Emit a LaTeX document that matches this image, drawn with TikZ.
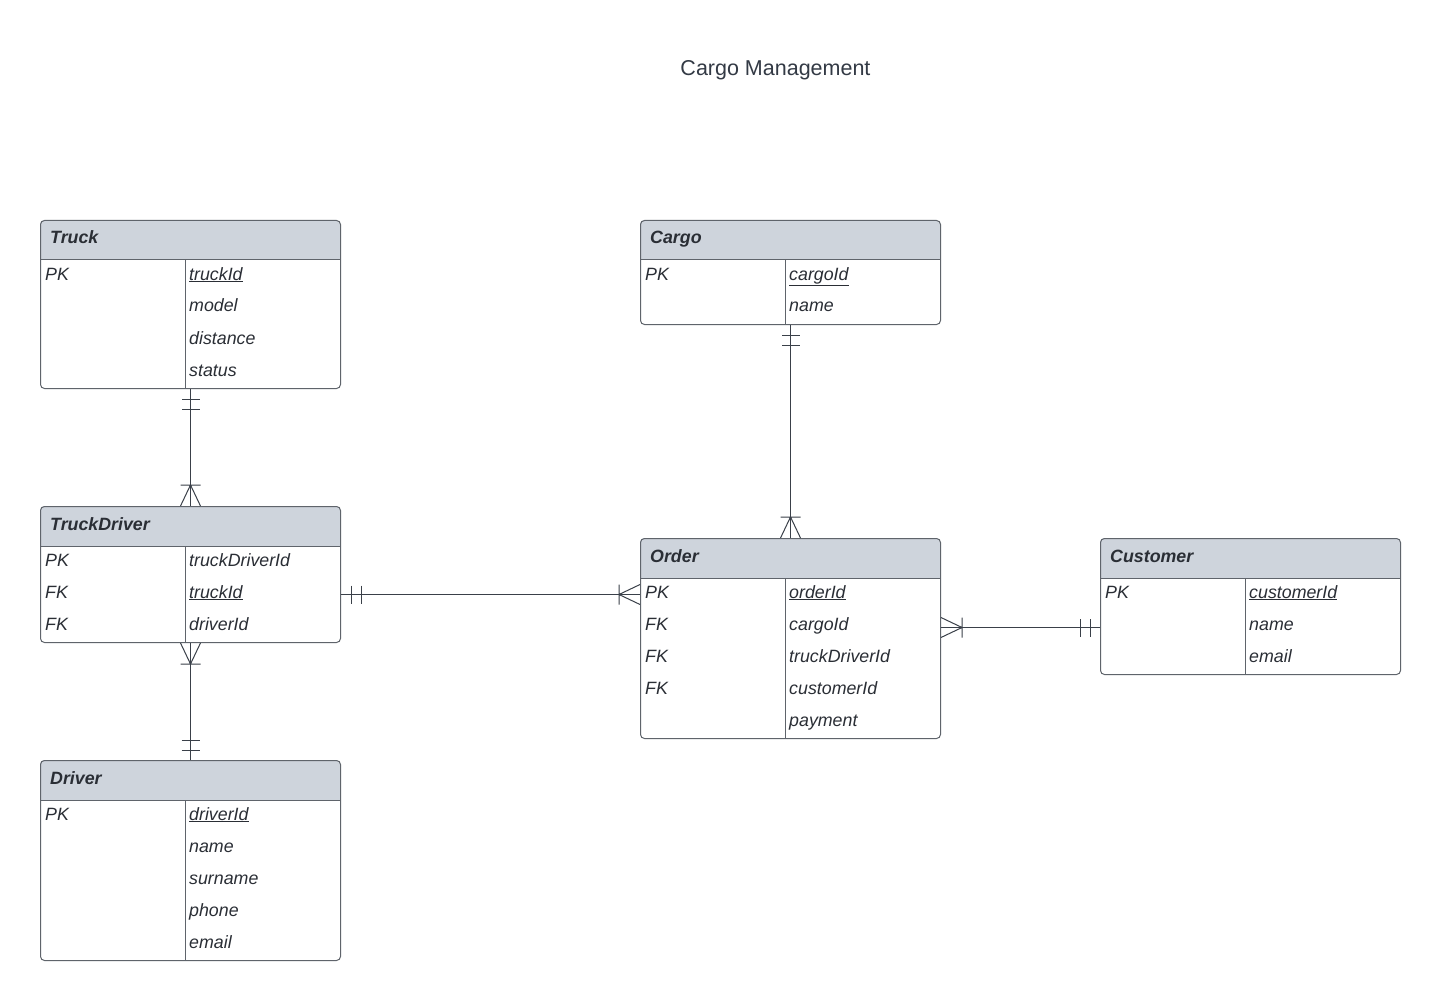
\documentclass[tikz,border=0pt]{standalone}
\usepackage{fontspec}
\setmainfont{Liberation Sans}
\definecolor{hdrfill}{HTML}{CED4DC}
\definecolor{bordc}{HTML}{5F646B}
\definecolor{txtc}{HTML}{2A2E35}
\definecolor{linec}{HTML}{3A4049}
\definecolor{titlec}{HTML}{333A45}
\tikzset{
  conn/.style={draw=linec, line width=1pt},
  tblframe/.style={draw=bordc, line width=1pt, rounded corners=4pt, inner sep=0pt, minimum width=300pt},
  border/.style={draw=bordc, line width=1pt},
  hdr/.style={inner sep=0pt, text=txtc, font=\fontsize{17.8}{20}\selectfont\bfseries\itshape},
  cell/.style={inner sep=0pt, text=txtc, font=\fontsize{17.8}{20}\selectfont\itshape},
  pics/barbar/.style={code={\draw[conn] (10,-9) -- (10,9) (20,-9) -- (20,9);}},
  pics/crowfoot/.style={code={\draw[conn] (0,-10) -- (21,0) -- (0,10) (21,-10) -- (21,10);}},
}
\newcommand\ertable[6]{%
  \pgfmathsetmacro\tblh{40+32*#4}
  \begin{scope}
    \clip[rounded corners=4pt] (#2,#3) rectangle ++(300,\tblh);
    \fill[hdrfill] (#2,#3) rectangle ++(300,40);
  \end{scope}
  \node[tblframe, minimum height=\tblh pt, anchor=north west] (#1) at (#2,#3) {};
  \draw[border] (#2,#3+40) -- ++(300,0);
  \draw[border] (#2+145,#3+40) -- (#2+145,#3+\tblh);
  \node[hdr, anchor=base west] (#1-h) at (#2+10,#3+24) {#5};
  \foreach \k/\a [count=\i] in {#6} {
    \node[cell, anchor=base west] (#1-k\i) at (#2+5,#3+40+32*\i-12) {\k};
    \node[cell, anchor=base west] (#1-a\i) at (#2+149,#3+40+32*\i-12) {\a};
  }
}
\begin{document}
\begin{tikzpicture}[x=1pt,y=-1pt]
\fill[white] (0,0) rectangle (1440,1000);
\useasboundingbox (0,0) rectangle (1440,1000);
\node[text=titlec, font=\fontsize{21.5}{24}\selectfont, inner sep=0pt] (title) at (775.5,70) {Cargo Management};

\ertable{truck}{40}{220}{4}{Truck}{PK/\underline{truckId}, /model, /distance, /status}
\ertable{cargo}{640}{220}{2}{Cargo}{PK/\underline{cargoId}, /name}
\ertable{td}{40}{506}{3}{TruckDriver}{PK/truckDriverId, FK/\underline{truckId}, FK/driverId}
\ertable{order}{640}{538}{5}{Order}{PK/\underline{orderId}, FK/cargoId, FK/truckDriverId, FK/customerId, /payment}
\ertable{cust}{1100}{538}{3}{Customer}{PK/\underline{customerId}, /name, /email}
\ertable{driver}{40}{760}{5}{Driver}{PK/\underline{driverId}, /name, /surname, /phone, /email}

% Truck -- TruckDriver
\draw[conn] (truck.south) -- (td.north);
\pic[rotate=-90] at (truck.south) {barbar};
\pic[rotate=90] at (td.north) {crowfoot};
% TruckDriver -- Driver
\draw[conn] (td.south) -- (driver.north);
\pic[rotate=-90] at (td.south) {crowfoot};
\pic[rotate=90] at (driver.north) {barbar};
% Cargo -- Order
\draw[conn] (cargo.south) -- (order.north);
\pic[rotate=-90] at (cargo.south) {barbar};
\pic[rotate=90] at (order.north) {crowfoot};
% TruckDriver -- Order
\coordinate (tdR) at ([yshift=-20pt]td.east);
\coordinate (orL) at ([yshift=44pt]order.west);
\draw[conn] (tdR) -- (orL);
\pic at (tdR) {barbar};
\pic[rotate=180] at (orL) {crowfoot};
% Order -- Customer
\coordinate (orR) at ([yshift=11pt]order.east);
\coordinate (cuL) at ([yshift=-21pt]cust.west);
\draw[conn] (orR) -- (cuL);
\pic at (orR) {crowfoot};
\pic[rotate=180] at (cuL) {barbar};
\end{tikzpicture}
\end{document}
